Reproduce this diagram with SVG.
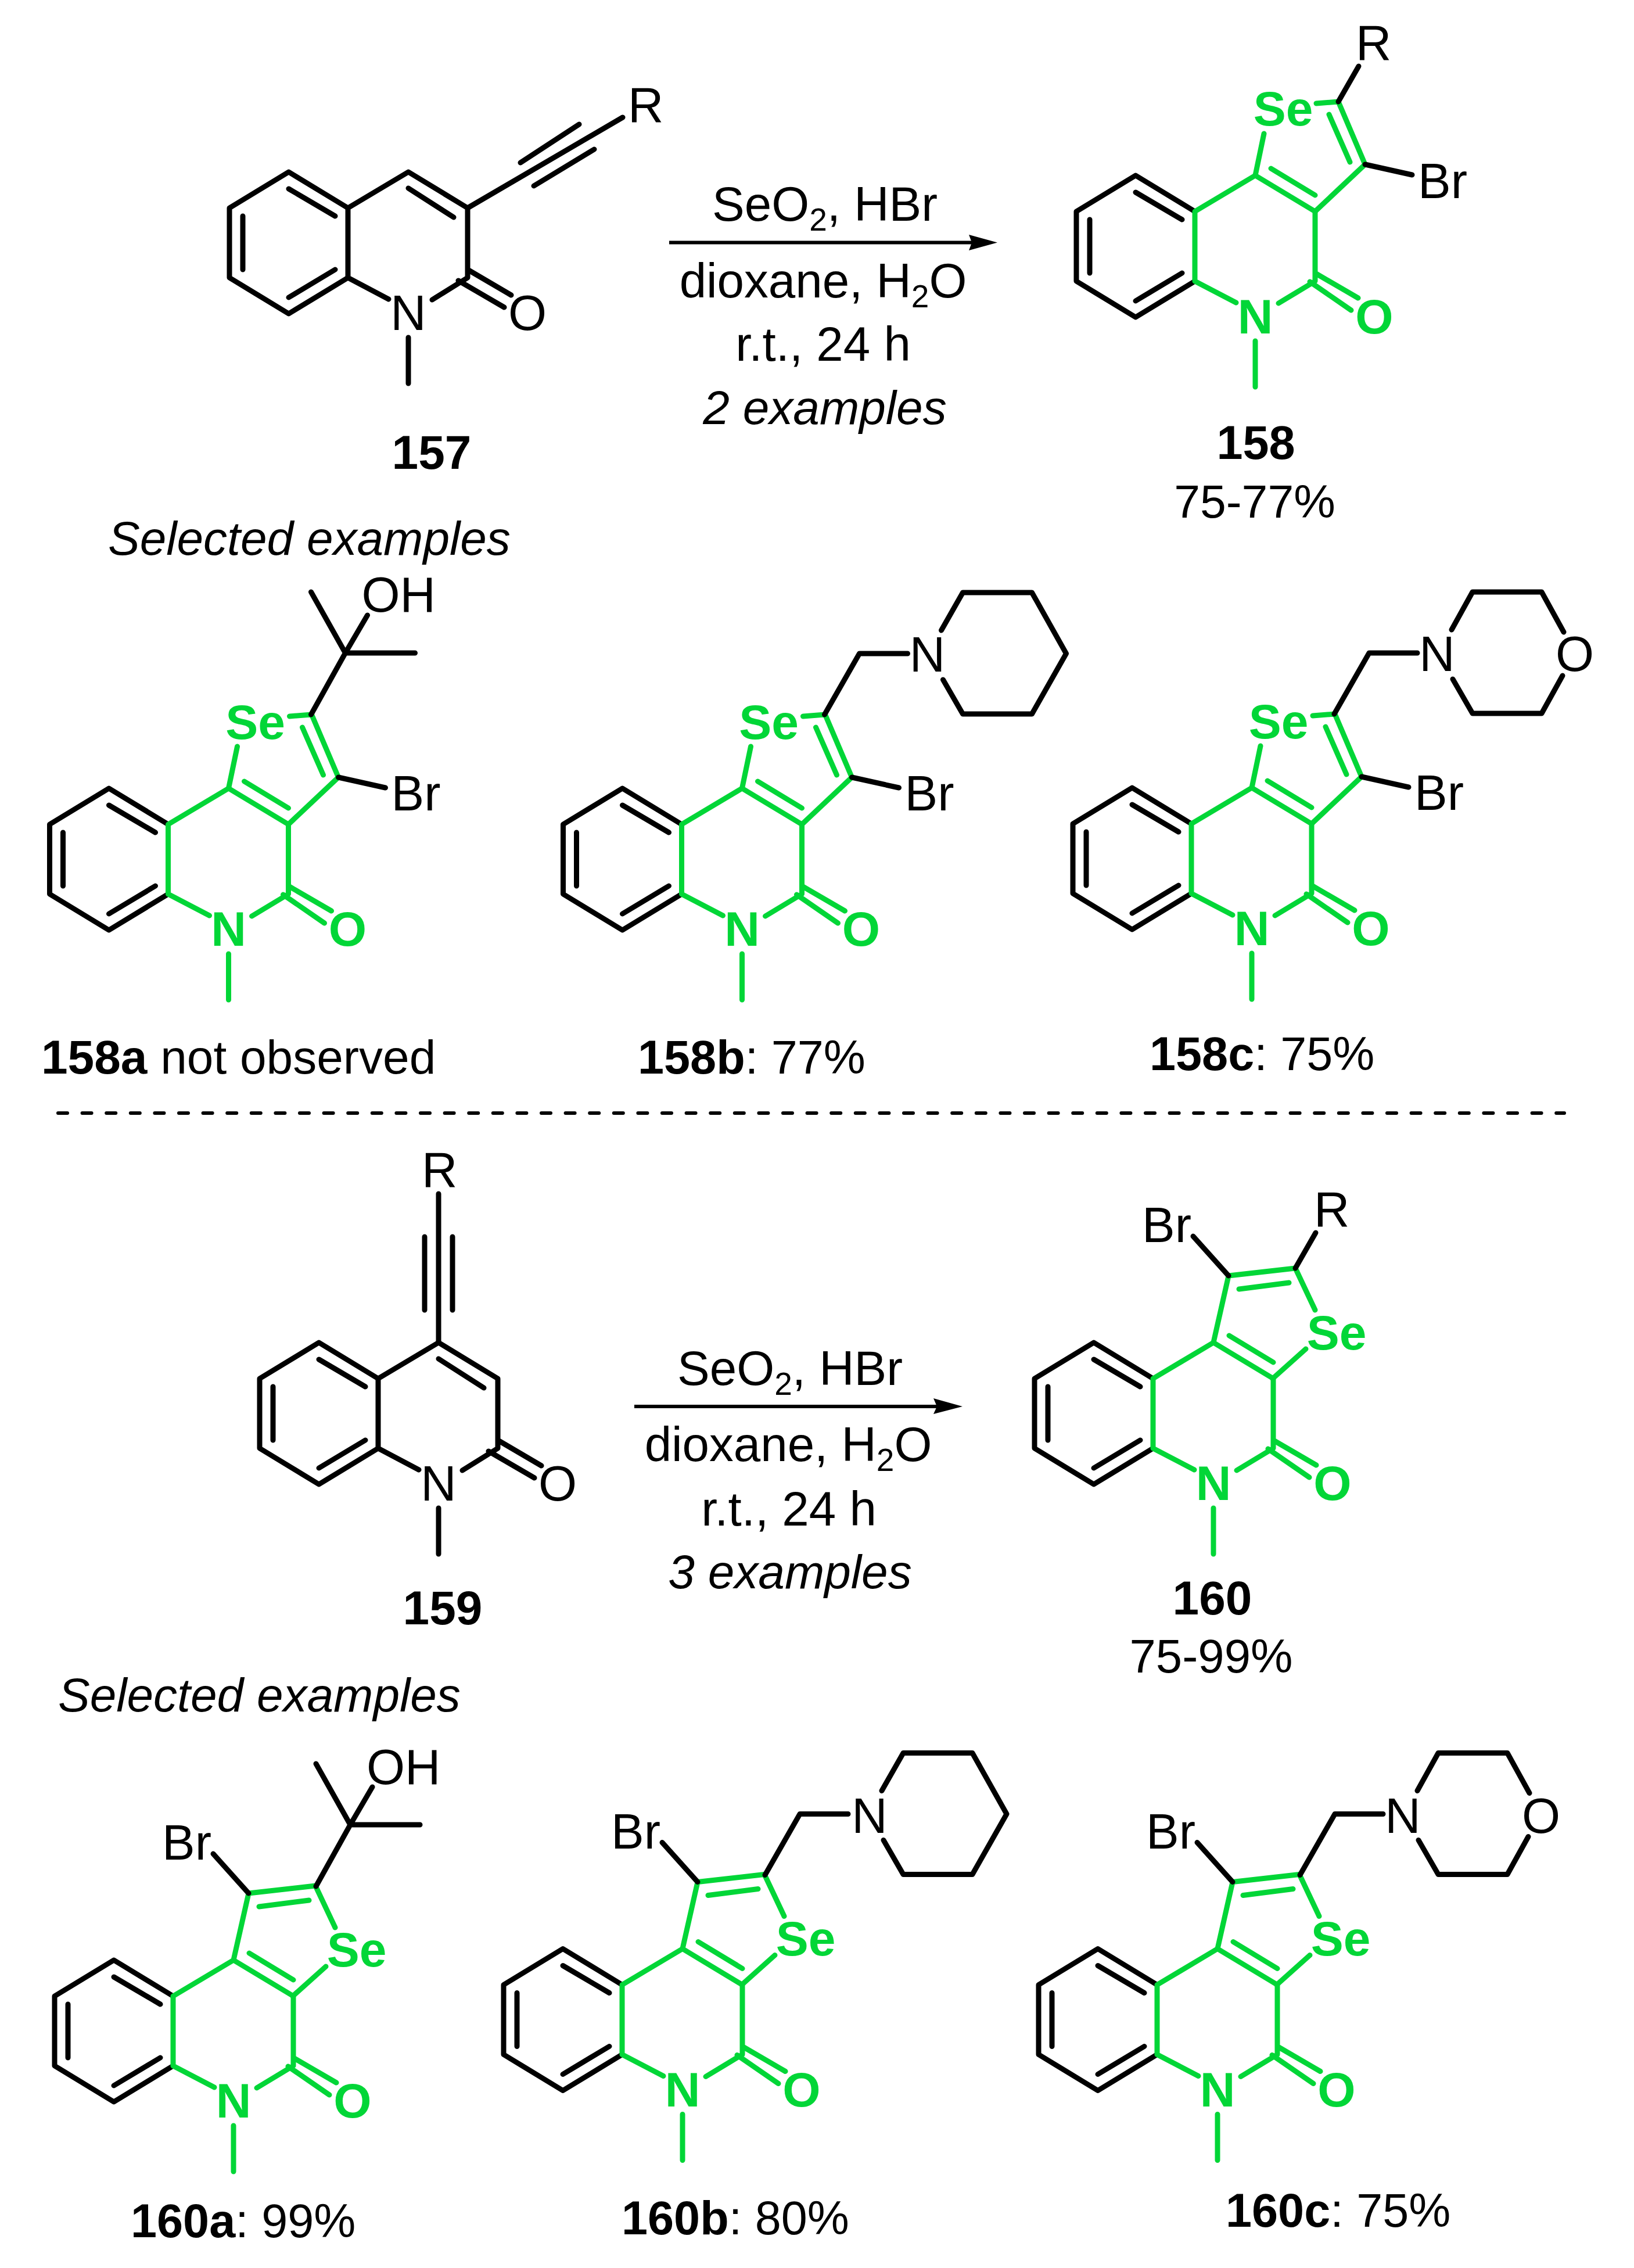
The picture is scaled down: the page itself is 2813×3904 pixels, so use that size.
<svg xmlns="http://www.w3.org/2000/svg" xmlns:xlink="http://www.w3.org/1999/xlink" width="2813" height="3904" viewBox="0 0 2813 3904">
<style>
text{font-family:"Liberation Sans",Arial,sans-serif;font-size:82px;fill:#000}
.b{fill:none;stroke:#000;stroke-width:9;stroke-linecap:round;stroke-linejoin:round}
.g{fill:none;stroke:#02D637;stroke-width:9;stroke-linecap:round;stroke-linejoin:round}
.ar{fill:none;stroke:#000;stroke-width:6}
.a{font-size:85px}
.m{text-anchor:middle}
.ga{font-size:84px;font-weight:bold;fill:#02D637;text-anchor:middle}
.lb{font-weight:bold}
.i{font-style:italic}
.c{font-size:83.5px}
.n{font-size:81px}
</style>
<defs>
<path id="benzo" class="b" d="M102,62L0,0L-102,62L-102,182L0,244L102,182M0,29L80,76M-79,76L-79,168M80,168L0,216"/>
<path id="pyrG" class="g" d="M102,182L102,62L206,0L309,62L309,182L246,220M102,182L173,219M233,-12L309,34M309,168L383,211M300,183L371,232M206,285L206,364"/>
<path id="pyrB" class="b" d="M102,182L102,62L206,0L308,62L308,182L247,220M102,182L172,219M206,28L284,78M308,168L383,212M292,187L371,233M206,285L206,364"/>
<path id="thio158" class="g" d="M206,0L221,-72M311,-124L349,-127L395,-19L309,62M333,-105L369,-23"/>
<path id="thio160" class="g" d="M206,0L232,-115L347,-128L381,-56M308,62L365,11M250,-92L336,-103"/>
<path id="br158" class="b" d="M395,-19L476,-1"/>
<path id="br160" class="b" d="M232,-115L171,-183"/>
<path id="sideoh" class="b" d="M348,-127L407,-233L527,-233M407,-233L348,-338M407,-233L445,-298"/>
<path id="sidepip" class="b" d="M348,-127L408,-232L491,-232M549,-272L586,-337L705,-337L764,-232L705,-128L586,-128L552,-187"/>
<path id="sidemor" class="b" d="M348,-127L408,-232L491,-232M550,-272L586,-337L705,-337L743,-268M741,-193L705,-128L586,-128L552,-187"/>
</defs>
<g id="connectors">
<path class="ar" d="M1152,417.5L1680,417.5"/>
<path d="M1717,417.5L1668,404L1673,417.5L1668,431Z" fill="#000"/>
<path class="ar" d="M1092,2421L1620,2421"/>
<path d="M1657,2421L1607,2407L1613,2421L1607,2434Z" fill="#000"/>
<path id="divider" fill="none" stroke="#000" stroke-width="6" stroke-linecap="round" stroke-dasharray="16 25.6" d="M100,1916L2693,1916"/>
</g>
<g id="c157" transform="translate(497,296)">
<use href="#benzo"/><use href="#pyrB"/>
<path class="b" d="M308,62L575,-94M399,-16L500,-82M422,24L526,-39"/>
<text class="a m" x="206" y="272">N</text><text class="a m" x="411" y="272">O</text><text class="a" x="584" y="-86">R</text>
</g>
<g id="conditions1">
<text class="c m" x="1420" y="380">SeO<tspan font-size="55" dy="17">2</tspan><tspan dy="-17">, HBr</tspan></text>
<text class="c m" x="1417" y="512">dioxane, H<tspan font-size="55" dy="17">2</tspan><tspan dy="-17">O</tspan></text>
<text class="c m" x="1417" y="621">r.t., 24 h</text>
<text class="m i" x="1420" y="730">2 examples</text>
</g>
<text id="l157" class="lb m" x="743" y="807">157</text>
<g id="c158" transform="translate(1955,302)">
<use href="#benzo"/><use href="#pyrG"/><use href="#thio158"/><use href="#br158"/>
<path class="b" d="M349,-127L384,-188"/>
<text class="ga" x="254" y="-86">Se</text><text class="ga" x="206" y="272">N</text><text class="ga" x="411" y="272">O</text>
<text class="a" x="379" y="-199">R</text><text class="a" x="486" y="39">Br</text>
</g>
<text id="l158" class="n lb m" x="2162" y="790">158</text>
<text id="y158" class="m" style="font-size:80.5px" x="2160" y="891">75-77%</text>
<text id="s1" class="i" x="186" y="955">Selected examples</text>
<g id="c158a" transform="translate(187.5,1357)">
<use href="#benzo"/><use href="#pyrG"/><use href="#thio158"/><use href="#br158"/><use href="#sideoh"/>
<text class="ga" x="252" y="-85">Se</text><text class="ga" x="206" y="271">N</text><text class="ga" x="411" y="271">O</text>
<text class="a" x="435" y="-304">OH</text><text class="a" x="486" y="38">Br</text>
</g>
<text id="l158a" x="71" y="1848"><tspan class="lb">158a</tspan> not observed</text>
<g id="c158b" transform="translate(1071.5,1357)">
<use href="#benzo"/><use href="#pyrG"/><use href="#thio158"/><use href="#br158"/><use href="#sidepip"/>
<text class="ga" x="252" y="-85">Se</text><text class="ga" x="206" y="271">N</text><text class="ga" x="411" y="271">O</text>
<text class="a m" x="525" y="-201">N</text><text class="a" x="486" y="38">Br</text>
</g>
<text id="l158b" class="n" x="1098" y="1848"><tspan class="lb">158b</tspan>: 77%</text>
<g id="c158c" transform="translate(1949,1356)">
<use href="#benzo"/><use href="#pyrG"/><use href="#thio158"/><use href="#br158"/><use href="#sidemor"/>
<text class="ga" x="252" y="-85">Se</text><text class="ga" x="206" y="271">N</text><text class="ga" x="411" y="271">O</text>
<text class="a m" x="525" y="-201">N</text><text class="a m" x="762" y="-201">O</text><text class="a" x="486" y="38">Br</text>
</g>
<text id="l158c" class="n" x="1979" y="1842"><tspan class="lb">158c</tspan>: 75%</text>
<g id="c159" transform="translate(549,2311)">
<use href="#benzo"/><use href="#pyrB"/>
<path class="b" d="M206,0L206,-256M182,-182L182,-56M230,-182L230,-56"/>
<text class="a m" x="206" y="272">N</text><text class="a m" x="411" y="272">O</text><text class="a" x="177" y="-268">R</text>
</g>
<g id="conditions2">
<text class="c m" x="1360" y="2384">SeO<tspan font-size="55" dy="17">2</tspan><tspan dy="-17">, HBr</tspan></text>
<text class="c m" x="1357" y="2515">dioxane, H<tspan font-size="55" dy="17">2</tspan><tspan dy="-17">O</tspan></text>
<text class="c m" x="1358" y="2626">r.t., 24 h</text>
<text class="m i" x="1360" y="2734">3 examples</text>
</g>
<text id="l159" class="lb m" x="762" y="2796">159</text>
<g id="c160" transform="translate(1883,2311)">
<use href="#benzo"/><use href="#pyrG"/><use href="#thio160"/><use href="#br160"/>
<path class="b" d="M347,-128L382,-189"/>
<text class="ga" x="418" y="12">Se</text><text class="ga" x="206" y="271">N</text><text class="ga" x="411" y="271">O</text>
<text class="a" x="379" y="-200">R</text><text class="a" x="83" y="-173">Br</text>
</g>
<text id="l160" class="lb m" x="2087" y="2779">160</text>
<text id="y160" class="m" style="font-size:81.5px" x="2085" y="2879">75-99%</text>
<text id="s2" class="i" x="100" y="2946">Selected examples</text>
<g id="c160a" transform="translate(196,3374)">
<use href="#benzo"/><use href="#pyrG"/><use href="#thio160"/><use href="#br160"/><use href="#sideoh"/>
<text class="ga" x="418" y="11">Se</text><text class="ga" x="206" y="271">N</text><text class="ga" x="411" y="271">O</text>
<text class="a" x="435" y="-303">OH</text><text class="a" x="83" y="-173">Br</text>
</g>
<text id="l160a" class="n" x="225" y="3851"><tspan class="lb">160a</tspan>: 99%</text>
<g id="c160b" transform="translate(969,3354.5)">
<use href="#benzo"/><use href="#pyrG"/><use href="#thio160"/><use href="#br160"/><use href="#sidepip"/>
<text class="ga" x="418" y="11">Se</text><text class="ga" x="206" y="271">N</text><text class="ga" x="411" y="271">O</text>
<text class="a m" x="528" y="-200">N</text><text class="a" x="83" y="-173">Br</text>
</g>
<text id="l160b" class="n" x="1070" y="3846"><tspan class="lb">160b</tspan>: 80%</text>
<g id="c160c" transform="translate(1890,3354.5)">
<use href="#benzo"/><use href="#pyrG"/><use href="#thio160"/><use href="#br160"/><use href="#sidemor"/>
<text class="ga" x="418" y="11">Se</text><text class="ga" x="206" y="271">N</text><text class="ga" x="411" y="271">O</text>
<text class="a m" x="525" y="-200">N</text><text class="a m" x="763" y="-200">O</text><text class="a" x="83" y="-173">Br</text>
</g>
<text id="l160c" class="n" x="2110" y="3833"><tspan class="lb">160c</tspan>: 75%</text>
</svg>
